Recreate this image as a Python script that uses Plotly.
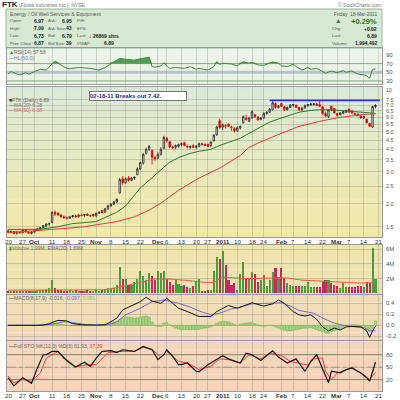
import numpy as np
import pandas as pd
import plotly.graph_objects as go

# ---------------- calendar / ticks ----------------
holidays = ["2010-11-25", "2010-12-24", "2011-01-17", "2011-02-21"]
trading_days = [d.strftime("%Y-%m-%d") for d in pd.bdate_range("2010-09-20", "2011-03-21")
                if d.strftime("%Y-%m-%d") not in holidays]
day_index = {d: i for i, d in enumerate(trading_days)}

tick_dates = ["2010-09-20", "2010-09-27", "2010-10-01", "2010-10-11", "2010-10-18", "2010-10-25",
              "2010-11-01", "2010-11-08", "2010-11-15", "2010-11-22", "2010-12-01", "2010-12-06",
              "2010-12-13", "2010-12-20", "2010-12-27", "2011-01-03", "2011-01-10", "2011-01-18",
              "2011-01-24", "2011-02-01", "2011-02-07", "2011-02-14", "2011-02-22", "2011-03-01",
              "2011-03-07", "2011-03-14", "2011-03-21"]
tick_labels = ["20", "27", "Oct", "11", "18", "25", "Nov", "8", "15", "22", "Dec", "6", "13", "20",
               "27", "2011", "10", "18", "24", "Feb", "7", "14", "22", "Mar", "7", "14", "21"]
month_labels = ["Oct", "Nov", "Dec", "2011", "Feb", "Mar"]

# ---------------- price data (daily, Sep 20 2010 - Mar 18 2011) ----------------
opens = [1.42, 1.40, 1.41, 1.38, 1.40, 1.39, 1.43, 1.40, 1.38, 1.40, 1.43, 1.46, 1.48, 1.52, 1.55,
         1.58, 1.80, 1.78, 1.74, 1.70, 1.68, 1.67, 1.70, 1.72, 1.70, 1.74, 1.73, 1.76, 1.73, 1.72,
         1.72, 1.78, 1.84, 1.80, 1.88, 1.95, 2.00, 2.05, 2.30, 2.75, 2.62, 2.78, 2.70, 2.78, 2.90,
         3.12, 3.35, 3.80, 4.00, 3.95, 3.60, 3.58, 3.75, 4.05, 4.60, 4.40, 4.12, 4.10, 4.15, 4.25,
         4.35, 4.15, 4.10, 4.18, 4.10, 4.15, 4.25, 4.25, 4.25, 4.18, 4.45, 4.80, 5.75, 5.30, 5.35,
         5.50, 5.25, 5.20, 5.05, 5.25, 5.60, 5.95, 5.70, 5.95, 6.20, 6.00, 5.85, 5.95, 6.30, 6.40,
         6.60, 7.15, 6.80, 7.15, 6.85, 6.60, 6.80, 7.00, 7.00, 6.80, 6.60, 6.75, 6.95, 7.00, 7.05,
         7.10, 7.05, 6.85, 6.30, 6.05, 6.90, 6.70, 6.30, 6.20, 6.30, 6.40, 6.65, 6.50, 6.30, 6.25,
         6.10, 5.95, 5.85, 5.55, 5.30, 6.97]
highs = [1.45, 1.43, 1.42, 1.42, 1.41, 1.44, 1.45, 1.42, 1.41, 1.44, 1.47, 1.49, 1.53, 1.56, 1.58,
         1.82, 1.84, 1.80, 1.76, 1.73, 1.71, 1.72, 1.74, 1.75, 1.76, 1.77, 1.76, 1.78, 1.75, 1.77,
         1.79, 1.82, 1.85, 1.90, 1.98, 2.02, 2.08, 2.15, 2.78, 2.85, 2.80, 2.85, 2.82, 2.85, 3.18,
         3.42, 3.82, 4.08, 4.22, 3.98, 3.70, 3.85, 4.10, 4.75, 4.68, 4.45, 4.20, 4.25, 4.30, 4.35,
         4.40, 4.25, 4.20, 4.28, 4.22, 4.35, 4.35, 4.32, 4.30, 4.42, 4.85, 5.40, 5.90, 5.55, 5.48,
         5.55, 5.40, 5.30, 5.35, 5.40, 6.15, 6.20, 6.00, 6.55, 6.25, 6.10, 6.00, 6.40, 6.50, 6.75,
         7.45, 7.25, 7.00, 7.20, 6.90, 6.85, 7.10, 7.10, 7.05, 6.85, 6.80, 7.05, 7.10, 7.20, 7.15,
         7.20, 7.42, 6.90, 6.45, 6.65, 6.95, 6.75, 6.35, 6.40, 6.50, 6.60, 6.70, 6.60, 6.35, 6.30,
         6.15, 6.10, 5.90, 5.60, 6.95, 7.09]
lows = [1.38, 1.38, 1.36, 1.36, 1.37, 1.38, 1.39, 1.37, 1.36, 1.39, 1.42, 1.44, 1.47, 1.50, 1.52,
        1.57, 1.72, 1.72, 1.68, 1.66, 1.65, 1.66, 1.68, 1.68, 1.69, 1.71, 1.70, 1.72, 1.70, 1.71,
        1.70, 1.76, 1.78, 1.79, 1.86, 1.93, 1.97, 2.02, 2.28, 2.55, 2.58, 2.66, 2.68, 2.72, 2.88,
        3.08, 3.30, 3.75, 3.92, 3.30, 3.45, 3.55, 3.70, 4.00, 4.35, 4.05, 4.00, 4.02, 4.08, 4.15,
        4.15, 4.05, 4.02, 4.05, 4.02, 4.10, 4.18, 4.15, 4.12, 4.15, 4.42, 4.75, 5.20, 5.10, 5.20,
        5.30, 5.05, 4.95, 5.00, 5.15, 5.55, 5.75, 5.65, 5.90, 5.95, 5.75, 5.78, 5.90, 6.20, 6.35,
        6.55, 6.70, 6.70, 6.85, 6.50, 6.55, 6.75, 6.85, 6.75, 6.50, 6.50, 6.70, 6.85, 6.95, 6.95,
        6.95, 6.85, 6.20, 6.00, 5.95, 6.50, 6.30, 6.05, 6.15, 6.25, 6.35, 6.35, 6.25, 6.10, 6.05,
        5.90, 5.90, 5.55, 5.30, 5.25, 6.73]
closes = [1.40, 1.41, 1.38, 1.40, 1.39, 1.43, 1.40, 1.38, 1.40, 1.43, 1.46, 1.48, 1.52, 1.55, 1.56,
          1.80, 1.76, 1.74, 1.70, 1.68, 1.67, 1.70, 1.72, 1.70, 1.74, 1.73, 1.75, 1.73, 1.72, 1.75,
          1.78, 1.80, 1.79, 1.88, 1.95, 2.00, 2.05, 2.12, 2.72, 2.62, 2.75, 2.70, 2.78, 2.80, 3.12,
          3.38, 3.75, 4.00, 4.15, 3.62, 3.55, 3.75, 4.00, 4.65, 4.45, 4.12, 4.10, 4.20, 4.25, 4.30,
          4.20, 4.12, 4.15, 4.10, 4.15, 4.30, 4.28, 4.20, 4.15, 4.38, 4.78, 5.30, 5.25, 5.45, 5.40,
          5.35, 5.30, 5.05, 5.25, 5.35, 6.05, 5.85, 5.95, 6.45, 6.05, 5.80, 5.95, 6.30, 6.40, 6.65,
          7.20, 6.80, 6.90, 6.88, 6.60, 6.80, 7.00, 7.05, 6.80, 6.60, 6.75, 6.95, 7.05, 7.10, 7.12,
          7.00, 6.90, 6.30, 6.10, 6.60, 6.55, 6.35, 6.15, 6.35, 6.45, 6.55, 6.40, 6.35, 6.25, 6.15,
          5.95, 6.05, 5.60, 5.35, 6.87, 6.89]
volume_m = [0.40, 0.30, 0.35, 0.30, 0.30, 0.40, 0.30, 0.30, 0.35, 0.40, 0.45, 0.50, 0.50, 0.55,
            0.80, 1.80, 0.80, 0.50, 0.50,
            0.40, 0.35, 0.45, 0.40, 0.50, 0.35, 0.30, 0.40, 0.45, 0.35, 0.30, 0.50, 0.40, 0.50, 0.60,
            0.70, 0.75, 0.70, 1.10,
            3.60, 1.90, 1.90, 1.20, 1.10,
            1.50, 2.00, 3.10, 2.30, 1.80, 2.80, 2.30, 1.80, 3.00, 2.80, 3.10, 2.00, 1.60, 1.10, 1.80,
            1.30, 1.00, 1.10, 0.90, 0.80, 1.00, 1.60,
            2.00, 0.40, 0.40, 0.50, 0.50, 3.00, 4.90, 4.70, 5.70, 3.85, 1.80, 1.15, 1.40, 0.50,
            2.70, 4.30, 1.90, 2.00, 2.90, 2.60, 1.50, 1.80, 2.50, 1.00, 1.80, 2.90, 3.40, 2.20, 3.40,
            2.10, 1.40,
            1.20, 1.00, 1.00, 1.00, 1.00, 1.00, 1.50, 0.90, 0.90, 0.90, 0.90, 1.50, 1.80, 1.80, 1.40,
            1.15, 1.00, 0.80, 1.40, 0.90, 0.90, 0.90, 0.90, 1.00, 1.00, 0.90, 1.50, 1.40, 6.10, 2.00]

# ---------------- overlays / indicators ----------------
ma20_idx = [0, 11, 17, 20, 22, 30, 37, 40, 45, 48, 52, 55, 58, 62, 65, 69, 72, 76, 79, 82, 86, 89,
            93, 96, 99, 103, 106, 110, 113, 116, 120, 123, 125]
ma20 = [1.45, 1.45, 1.50, 1.53, 1.56, 1.60, 1.80, 1.95, 2.45, 2.70, 3.07, 3.40, 3.60, 3.80, 3.90,
        4.00, 4.20, 4.40, 4.60, 4.90, 5.30, 5.65, 5.95, 6.20, 6.40, 6.55, 6.60, 6.60, 6.55, 6.52,
        6.45, 6.35, 6.28]
ma50_idx = [0, 9, 14, 20, 26, 31, 37, 43, 48, 52, 55, 58, 62, 65, 72, 79, 82, 86, 93, 99, 106,
            113, 120, 125]
ma50 = [1.39, 1.42, 1.44, 1.47, 1.50, 1.55, 1.60, 1.70, 1.85, 2.02, 2.20, 2.38, 2.60, 2.78, 3.15,
        3.70, 4.10, 4.40, 4.90, 5.35, 5.70, 6.00, 6.20, 6.28]
resistance_level = 7.44
resistance_idx = [89, 126.5]

rsi_idx = [0, 1, 4, 6, 7, 9, 11, 13, 15, 16, 18, 19, 21, 24, 28, 31, 33, 36, 38, 40, 43, 45, 48,
           49, 50, 52, 53, 55, 57, 60, 62, 64, 65, 68, 70, 71, 72, 73, 76, 78, 80, 82, 83, 85, 87,
           90, 92, 93, 95, 97, 98, 100, 102, 103, 105, 107, 108, 110, 112, 114, 115, 117, 119, 121,
           122, 123, 124, 125]
rsi = [46, 51.5, 44, 49, 46, 51.5, 57, 55, 69, 76, 67, 62, 58, 61, 59, 55, 61, 74.5, 82, 80, 78,
       81, 85, 63, 62, 64.6, 72, 59, 61, 59, 63, 57, 59, 55, 63, 74.5, 68, 71, 69, 64.6, 74.5, 71,
       73, 67, 66, 74, 71, 65, 63, 68.5, 63, 55, 61, 57, 59, 51.5, 48, 53, 49, 54, 50, 53, 46, 44,
       42, 36, 57, 57.6]

vol_ema_idx = [0, 10, 25, 33, 37, 40, 45, 50, 55, 60, 64, 67, 70, 73, 77, 83, 90, 95, 100, 105,
               110, 115, 120, 123, 125]
vol_ema = [0.45, 0.45, 0.45, 0.50, 0.80, 1.10, 1.50, 1.95, 1.95, 1.80, 1.60, 1.50, 1.50, 2.20,
           2.10, 2.00, 2.10, 2.10, 1.80, 1.65, 1.60, 1.50, 1.40, 1.45, 1.69]

macd_idx = [0, 5, 10, 12, 14, 17, 20, 22, 25, 30, 33, 35, 37, 39, 42, 45, 47, 49, 52, 54, 56, 58,
            61, 64, 65, 69, 71, 75, 78, 80, 83, 87, 90, 92, 94, 97, 99, 101, 103, 105, 107, 109,
            111, 113, 115, 117, 120, 122, 123, 124, 125]
macd = [0.0, -0.005, 0.0, 0.005, 0.03, 0.09, 0.08, 0.03, 0.01, 0.005, 0.01, 0.065, 0.13, 0.28,
        0.35, 0.43, 0.51, 0.44, 0.40, 0.49, 0.40, 0.31, 0.25, 0.19, 0.16, 0.16, 0.25, 0.36, 0.31,
        0.35, 0.41, 0.35, 0.39, 0.46, 0.40, 0.25, 0.19, 0.17, 0.19, 0.11, -0.03, -0.10, -0.05,
        -0.085, -0.03, -0.02, -0.03, -0.10, -0.22, -0.10, -0.016]
signal_idx = [0, 10, 15, 19, 22, 27, 33, 35, 37, 40, 45, 49, 53, 58, 62, 65, 69, 72, 76, 79, 83,
              88, 93, 96, 99, 104, 107, 111, 114, 117, 121, 123, 125]
signal = [0.0, 0.0, 0.02, 0.065, 0.05, 0.01, 0.0, 0.02, 0.065, 0.19, 0.31, 0.43, 0.46, 0.40,
          0.33, 0.26, 0.19, 0.22, 0.30, 0.33, 0.39, 0.40, 0.41, 0.35, 0.27, 0.22, 0.13, 0.04, 0.0,
          -0.02, -0.04, -0.10, -0.097]
macd_hist = [0.0, -0.005, -0.005, 0.0, -0.003, 0.0, 0.0, -0.004, -0.003, 0.0, 0.004, 0.006, 0.008,
             0.01,
             0.015, 0.03, 0.035, 0.03, 0.02, 0.01, 0.005,
             -0.005, -0.01, -0.012, -0.01, -0.01, -0.008, -0.008, -0.006, -0.005, -0.003, 0.0,
             0.005, 0.015,
             0.03, 0.04, 0.06, 0.07, 0.10, 0.13, 0.15, 0.15, 0.14, 0.13, 0.14, 0.15, 0.16, 0.17,
             0.15, 0.06, 0.0, -0.02, -0.02, 0.04, 0.05, 0.01, -0.02,
             -0.05, -0.07, -0.08, -0.08, -0.08, -0.085, -0.08, -0.08, -0.075, -0.06, -0.05, -0.04,
             -0.03,
             0.0, 0.04, 0.06, 0.07, 0.07, 0.06, 0.04, 0.02, 0.0, 0.02, 0.03, 0.04, 0.05, 0.05, 0.03,
             0.01, -0.01, -0.02, -0.01, 0.0,
             -0.01, -0.03, -0.05, -0.07, -0.09, -0.10, -0.10, -0.09, -0.08, -0.07, -0.06, -0.05,
             -0.05, -0.04, -0.06, -0.08, -0.10, -0.12, -0.14, -0.15, -0.12, -0.10, -0.08, -0.06,
             -0.03, -0.01, 0.0, 0.01, 0.01, 0.0, -0.02, -0.04, -0.07, -0.11, -0.05, 0.081]

stok_idx = [0, 2, 5, 7, 8, 10, 12, 13, 15, 17, 19, 21, 23, 26, 28, 30, 32, 35, 37, 39, 43, 46, 49,
            51, 53, 54, 56, 58, 59, 61, 64, 65, 68, 70, 73, 75, 79, 81, 83, 86, 90, 92, 95, 98,
            101, 103, 105, 107, 109, 110, 113, 115, 117, 120, 122, 123, 125]
stok = [24.5, 4.6, 24.5, 16, 11, 48, 80, 80, 88, 88, 72, 60, 50, 62, 52, 72, 88, 90, 85, 92, 88,
        100, 92, 68, 80, 92, 76, 56, 56, 60, 40, 39, 56, 64, 77.6, 70, 60, 84, 80, 66, 89.5, 74.5,
        60, 70, 40, 64, 80, 46, 12.6, 40, 36, 44, 48, 36, 24.5, 16, 61.9]
stod_idx = [0, 2, 5, 8, 11, 13, 17, 20, 23, 27, 30, 34, 38, 43, 46, 49, 52, 54, 58, 61, 64, 65,
            69, 72, 75, 79, 82, 86, 89, 93, 96, 99, 102, 104, 107, 108, 110, 112, 115, 117, 121,
            123, 125]
stod = [28, 12, 20, 16, 36, 72, 88, 68, 51, 56, 56, 85, 88, 88, 98, 93, 74, 88, 64, 60, 48, 44,
        52, 70, 68, 60, 80, 70, 84, 78, 64, 60, 55, 70, 72, 40, 20, 36, 44, 48, 32, 20, 37.4]

for arr in (opens, highs, lows, closes, volume_m, macd_hist):
    assert len(arr) == 126, len(arr)

# ---------------- geometry helpers ----------------
W = H = 400
def PX(x): return x / W
def PY(y): return 1 - y / H

FONT = "Liberation Sans, Arial, sans-serif"
XL, XR = 7, 382
xdom = [PX(XL), PX(XR)]
xrange_ = [(XL - 8) / 2.94, (XR - 8) / 2.94]
tick_idx = [day_index[d] for d in tick_dates]
N = len(closes)
xs = list(range(N))

fig = go.Figure()

# ---- RSI panel (1) ----
fig.add_trace(go.Scatter(x=rsi_idx, y=[70] * len(rsi_idx), mode="lines",
                         line=dict(width=0, color="rgba(0,0,0,0)"), xaxis="x", yaxis="y",
                         hoverinfo="skip"))
fig.add_trace(go.Scatter(x=rsi_idx, y=list(np.maximum(rsi, 70)), mode="lines",
                         line=dict(width=0, color="rgba(0,0,0,0)"), fill="tonexty",
                         fillcolor="rgba(60,140,60,0.85)", xaxis="x", yaxis="y", hoverinfo="skip"))
fig.add_trace(go.Scatter(x=rsi_idx, y=rsi, mode="lines", line=dict(color="#3c8c3c", width=1),
                         xaxis="x", yaxis="y"))

# ---- Price panel (2) ----
up_prev = [closes[i] >= (closes[i - 1] if i > 0 else opens[i]) for i in range(N)]
for flag, col in ((True, "#222222"), (False, "#e00000")):
    sel = [i for i in range(N) if up_prev[i] == flag]
    fig.add_trace(go.Candlestick(
        x=sel, open=[opens[i] for i in sel], high=[highs[i] for i in sel],
        low=[lows[i] for i in sel], close=[closes[i] for i in sel],
        increasing=dict(line=dict(color=col, width=0.8), fillcolor="rgba(255,255,255,0.75)"),
        decreasing=dict(line=dict(color=col, width=0.8), fillcolor=col),
        whiskerwidth=0, xaxis="x2", yaxis="y2", showlegend=False))
fig.add_trace(go.Scatter(x=ma20_idx, y=ma20, mode="lines", line=dict(color="#2b7a2b", width=1),
                         xaxis="x2", yaxis="y2"))
fig.add_trace(go.Scatter(x=ma50_idx, y=ma50, mode="lines", line=dict(color="#f03a3a", width=1),
                         xaxis="x2", yaxis="y2"))
fig.add_trace(go.Scatter(x=resistance_idx, y=[resistance_level] * 2, mode="lines",
                         line=dict(color="#2a35e8", width=1.6), xaxis="x2", yaxis="y2"))

# ---- Volume panel (3) ----
vcol = ["#4f9a3f" if u else "#c62a5a" for u in up_prev]
fig.add_trace(go.Bar(x=xs, y=volume_m, marker=dict(color=vcol, line=dict(width=0)), width=0.72,
                     xaxis="x3", yaxis="y3"))
fig.add_trace(go.Scatter(x=vol_ema_idx, y=vol_ema, mode="lines",
                         line=dict(color="#f05a4a", width=1), xaxis="x3", yaxis="y3"))

# ---- MACD panel (4) ----
fig.add_trace(go.Bar(x=xs, y=macd_hist, width=0.8,
                     marker=dict(color="#a6d886", line=dict(color="#5e9e3e", width=0.4)),
                     xaxis="x4", yaxis="y4"))
fig.add_trace(go.Scatter(x=signal_idx, y=signal, mode="lines", line=dict(color="#7a68d8", width=1),
                         xaxis="x4", yaxis="y4"))
fig.add_trace(go.Scatter(x=macd_idx, y=macd, mode="lines", line=dict(color="#111111", width=1),
                         xaxis="x4", yaxis="y4"))

# ---- Full STO panel (5) ----
fig.add_trace(go.Scatter(x=stod_idx, y=stod, mode="lines", line=dict(color="#ff3b3b", width=1),
                         xaxis="x5", yaxis="y5"))
fig.add_trace(go.Scatter(x=stok_idx, y=stok, mode="lines", line=dict(color="#111111", width=1.2),
                         xaxis="x5", yaxis="y5"))

# ---------------- axes ----------------
panels = {  # n: (top px, bottom px, range, type, tickvals, ticktext, label size)
    1: (48, 84, [23, 106], "linear", [30, 50, 70, 90], ["30", "50", "70", "90"], 6),
    2: (87, 237, [np.log10(1.316), np.log10(8.81)], "log",
        [1.5, 2, 2.5, 3, 3.5, 4, 4.5, 5, 5.5, 6, 6.5, 7, 7.5],
        ["1.5", "2.0", "2.5", "3.0", "3.5", "4.0", "4.5", "5.0", "5.5", "6.0", "6.5", "7.0", "7.5"],
        5.4),
    3: (245, 294, [-0.07, 6.55], "linear", [2, 4, 6], ["2M", "4M", "6M"], 6),
    4: (295, 340, [-0.267, 0.551], "linear", [-0.2, 0, 0.2, 0.4], ["-0.2", "0.0", "0.2", "0.4"], 6),
    5: (341, 391, [-7.7, 113.2], "linear", [20, 50, 80], ["20", "50", "80"], 6),
}
GRID = "rgba(130,130,120,0.32)"
lay = {}
ann = []
for n, (top, bot, rng, typ, tv, tt, fs) in panels.items():
    xa = "xaxis" if n == 1 else "xaxis%d" % n
    ya = "yaxis" if n == 1 else "yaxis%d" % n
    lay[xa] = dict(domain=xdom, range=xrange_, anchor="y" if n == 1 else "y%d" % n,
                   tickvals=tick_idx, showticklabels=False, ticks="", showgrid=True,
                   gridcolor=GRID, gridwidth=1, zeroline=False, showline=True, mirror=True,
                   linecolor="#9a9a9a", linewidth=1, fixedrange=True,
                   rangeslider=dict(visible=False))
    lay[ya] = dict(domain=[PY(bot), PY(top)], range=rng, type=typ, side="right",
                   anchor="x" if n == 1 else "x%d" % n, tickvals=tv, showticklabels=False,
                   ticks="", showgrid=(n != 1), gridcolor=GRID, zeroline=False, showline=True,
                   mirror=True, linecolor="#9a9a9a", linewidth=1, fixedrange=True)
    # right-hand value labels placed on the panel's own y scale
    yref = "y" if n == 1 else "y%d" % n
    for v, t in zip(tv, tt):
        ann.append(dict(x=PX(385), xref="paper", y=(np.log10(v) if typ == "log" else v),
                        yref=yref, text=t, showarrow=False, xanchor="left", yanchor="middle",
                        borderpad=0, font=dict(size=fs, color="#555", family=FONT)))

# date labels under the price panel and under the last panel (on the shared day scale)
for xref, ypix in (("x2", 241.7), ("x5", 395.5)):
    for xi, lab in zip(tick_idx, tick_labels):
        txt = ("<b>%s</b>" % lab) if lab in month_labels else lab
        ann.append(dict(x=xi, xref=xref, y=PY(ypix), yref="paper", text=txt, showarrow=False,
                        xanchor="center", yanchor="middle",
                        font=dict(size=6.2, color="#333", family=FONT)))

# ---------------- backgrounds (vertical gradient bands) ----------------
shapes = []
def grad(n, c_top, c_bot, steps=24):
    xr = "x domain" if n == 1 else "x%d domain" % n
    yr = "y domain" if n == 1 else "y%d domain" % n
    for k in range(steps):
        t = k / (steps - 1)
        c = [round(c_top[j] + (c_bot[j] - c_top[j]) * t) for j in range(3)]
        shapes.append(dict(type="rect", xref=xr, yref=yr, x0=0, x1=1,
                           y0=1 - (k + 1) / steps, y1=1 - k / steps + 0.002,
                           fillcolor="rgb(%d,%d,%d)" % tuple(c), line=dict(width=0), layer="below"))
grad(1, (236, 244, 233), (233, 242, 229), 4)
grad(2, (219, 234, 216), (243, 233, 166))
grad(3, (241, 229, 174), (240, 225, 176), 6)
grad(4, (241, 222, 182), (243, 218, 184), 6)
grad(5, (244, 216, 188), (246, 211, 186), 6)

def hline(n, yv, color, width, dash="solid"):
    xr = "x domain" if n == 1 else "x%d domain" % n
    yr = "y" if n == 1 else "y%d" % n
    shapes.append(dict(type="line", xref=xr, yref=yr, x0=0, x1=1, y0=yv, y1=yv,
                       line=dict(color=color, width=width, dash=dash), layer="below"))
hline(1, 50, "#b9c3cb", 3)
hline(1, 70, "#86a486", 1)
hline(1, 30, "#86a486", 1)
hline(5, 80, "#8c8c66", 1)
hline(5, 20, "#8c8c66", 1)
hline(5, 50, "#a8a090", 1, "dashdot")

# info panel
shapes.append(dict(type="rect", xref="paper", yref="paper", x0=PX(6), x1=PX(382), y0=PY(48),
                   y1=PY(9), fillcolor="#d5e9d3", line=dict(color="#9cb89c", width=1),
                   layer="below"))

# ---------------- text ----------------
def T(x, y, text, size=7, color="#555", anchor="left", bold=False):
    if bold:
        text = "<b>%s</b>" % text
    ann.append(dict(x=PX(x), y=PY(y), xref="paper", yref="paper", text=text, showarrow=False,
                    xanchor=anchor, yanchor="middle", borderpad=0,
                    font=dict(size=size, color=color, family=FONT)))

T(1, 4.5, "FTK", 8, "#222", bold=True)
T(18, 5, "(Flotek Industries Inc.)  NYSE", 5, "#777")
T(382, 5, "© StockCharts.com", 5, "#777", "right")

LF, VF = 4.4, 5.0
T(9, 14, "Energy / Oil Well Services & Equipment", 5.2, "#555")
rows = [("Open:", "6.97", "Ask:", "6.95", "P/E:", ""),
        ("High:", "7.09", "Ask Size:", "43", "EPS:", ""),
        ("Low:", "6.73", "Bid:", "6.79", "Last:", ""),
        ("Prev Close:", "6.87", "Bid Size:", "39", "VWAP:", "6.89")]
for (l1, v1, l2, v2, l3, v3), yy in zip(rows, [21, 28.3, 35.7, 43]):
    T(9, yy, l1, LF)
    T(45, yy, v1, VF, "#222", "right", True)
    T(47, yy, l2, LF)
    T(72.5, yy, v2, VF, "#222", "right", True)
    T(75.5, yy, l3, LF)
    if v3:
        T(115, yy, v3, VF, "#222", "right", True)
T(87.5, 35.7, "↓", 6, "#e00000", "left", True)
T(92, 35.7, "26869 shrs", VF, "#222", "left", True)

T(378, 14, "Friday  18-Mar-2011", LF + 0.4, "#555", "right")
T(334, 21, "▲", 6.5, "#2a7a2a")
T(378, 21.5, "+0.29%", 7.5, "#2a7a2a", "right", True)
for lab, val, yy in (("Chg:", "+0.02", 28.7), ("Last:", "6.89", 36), ("Volume:", "1,994,492", 43.3)):
    T(331, yy, lab, LF)
    T(378, yy, val, VF, "#222", "right", True)

# panel legends
LS = 5.1
T(8, 52.5, "<span style='color:#2a8a2a'>▲</span>RSI(14) 57.58", LS, "#666")
T(8, 58, "<span style='color:#4a6fd0'>—</span>HL(50.0)", LS, "#6a80c0")
T(8, 100.5, "<span style='color:#333'>■</span>FTK (Daily) 6.89", LS, "#666")
T(8, 105.3, "<span style='color:#2b7a2b'>—</span>MA(20) 6.28", LS, "#777")
T(8, 110.1, "<span style='color:#f03a3a'>—</span>MA(50) 6.38", LS, "#e06060")
T(8, 247.7, "<span style='color:#4f9a3f'>▮</span>Volume 1.99M, EMA(20) 1.69M", LS, "#666")
T(8, 297.7, "<span style='color:#111'>—</span>MACD(8,17,9) -0.016, "
            "<span style='color:#7a68d8'>-0.097</span>, <span style='color:#7cc85c'>0.081</span>",
  LS, "#666")
T(8, 346.3, "<span style='color:#111'>—</span>Full STO %K(12,3) %D(3) 61.93, "
            "<span style='color:#ff3b3b'>37.39</span>", LS, "#666")
T(385, 90, "10", 5.4, "#555")

# chart note
ann.append(dict(x=PX(89), y=PY(96.5), xref="paper", yref="paper",
                text="<b>02-18-11 Breaks out 7.42.</b>", showarrow=False, xanchor="left",
                yanchor="middle", align="left", width=96, height=8, bgcolor="white",
                bordercolor="#777", borderwidth=1, borderpad=0,
                font=dict(size=6, color="#1c2a8a", family=FONT)))

fig.update_layout(width=W, height=H, margin=dict(l=0, r=0, t=0, b=0), paper_bgcolor="white",
                  plot_bgcolor="rgba(0,0,0,0)", showlegend=False, shapes=shapes,
                  annotations=ann, bargap=0, **lay)
fig.write_html("out.html", config={"displayModeBar": False, "staticPlot": True},
               post_script="document.body.style.margin='0';document.body.style.overflow='hidden';")
